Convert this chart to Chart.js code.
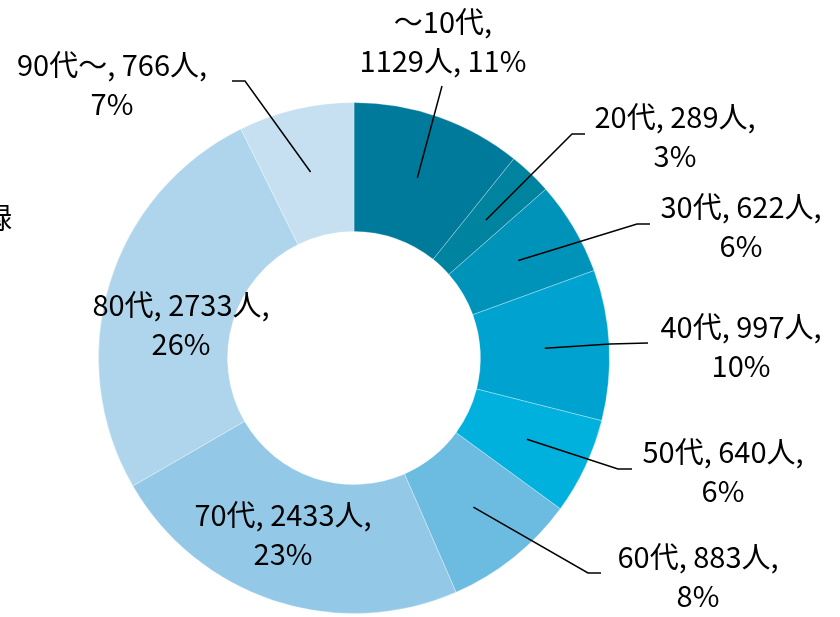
<!DOCTYPE html>
<html>
<head>
<meta charset="utf-8">
<script src="https://cdn.jsdelivr.net/npm/chart.js@4.4.1/dist/chart.umd.min.js"></script>
<style>
  html, body { margin: 0; padding: 0; background: #ffffff; overflow: hidden; }
  #wrap { position: relative; width: 840px; height: 617px; }
  canvas { display: block; }
</style>
</head>
<body>
<div id="wrap"><canvas id="chart" width="840" height="617"></canvas></div>
<script>
// 年代別の人数
const ageGroups = ['～10代', '20代', '30代', '40代', '50代', '60代', '70代', '80代', '90代～'];
const headcounts = [1129, 289, 622, 997, 640, 883, 2433, 2733, 766];
const sliceColors = ['#007A9B', '#00839F', '#0093BA', '#00A3CF', '#00B1DE', '#6CBCE2', '#93C9E7', '#AED5EB', '#C6E0F1'];

// ラベルの配置（文字の中心と引き出し線の折れ点）
const labelLayout = [
  { x: 443, y: 22, split: 'cat', lead: [[442, 86]] },
  { x: 675, y: 117, lead: [[572, 134], [585, 134]] },
  { x: 741, y: 207, lead: [[637, 224], [650, 224]] },
  { x: 741, y: 327, lead: [[610, 344], [648, 343]] },
  { x: 723, y: 452, lead: [[618, 469], [632, 469]] },
  { x: 698, y: 557, lead: [[588, 573], [601, 573]] },
  { x: 283, y: 515, lead: null },
  { x: 181, y: 305, lead: null },
  { x: 112, y: 65, lead: [[245, 81], [232, 81]] }
];

const LABEL_FONT = '29px "Noto Sans CJK JP", "Noto Sans", sans-serif';
const LINE_GAP = 39;

const total = headcounts.reduce((a, b) => a + b, 0);
const percents = headcounts.map(v => Math.round(v / total * 100));

function labelLines(i) {
  const cat = ageGroups[i], n = headcounts[i], p = percents[i];
  if (labelLayout[i].split === 'cat') return [cat + ',', n + '人, ' + p + '%'];
  return [cat + ', ' + n + '人,', p + '%'];
}

const sliceLabels = {
  id: 'sliceLabels',
  afterDatasetsDraw(chart) {
    const ctx = chart.ctx;
    const arcs = chart.getDatasetMeta(0).data;
    ctx.save();
    // 引き出し線
    ctx.strokeStyle = '#000000';
    ctx.lineWidth = 1.5;
    arcs.forEach((arc, i) => {
      const lay = labelLayout[i];
      if (!lay.lead) return;
      const p = arc.getProps(['x', 'y', 'startAngle', 'endAngle', 'innerRadius', 'outerRadius'], true);
      const mid = (p.startAngle + p.endAngle) / 2;
      const r = (p.innerRadius + p.outerRadius) / 2;
      ctx.beginPath();
      ctx.moveTo(p.x + Math.cos(mid) * r, p.y + Math.sin(mid) * r);
      lay.lead.forEach(pt => ctx.lineTo(pt[0], pt[1]));
      ctx.stroke();
    });
    // ラベル文字
    ctx.fillStyle = '#000000';
    ctx.font = LABEL_FONT;
    ctx.textAlign = 'center';
    ctx.textBaseline = 'middle';
    arcs.forEach((arc, i) => {
      const lay = labelLayout[i];
      labelLines(i).forEach((line, k) => ctx.fillText(line, lay.x, lay.y + k * LINE_GAP));
    });
    // 左端で切れている見出し
    ctx.textAlign = 'right';
    ctx.fillText('録', 12, 218);
    ctx.restore();
  }
};

new Chart(document.getElementById('chart'), {
  type: 'doughnut',
  data: {
    labels: ageGroups,
    datasets: [{
      data: headcounts,
      backgroundColor: sliceColors,
      borderColor: 'rgba(255,255,255,0.3)',
      borderWidth: 1
    }]
  },
  options: {
    responsive: false,
    animation: false,
    cutout: '49.5%',
    layout: { padding: { left: 98, right: 230, top: 102, bottom: 3 } },
    plugins: {
      legend: { display: false },
      tooltip: { enabled: false }
    }
  },
  plugins: [sliceLabels]
});
</script>
</body>
</html>
